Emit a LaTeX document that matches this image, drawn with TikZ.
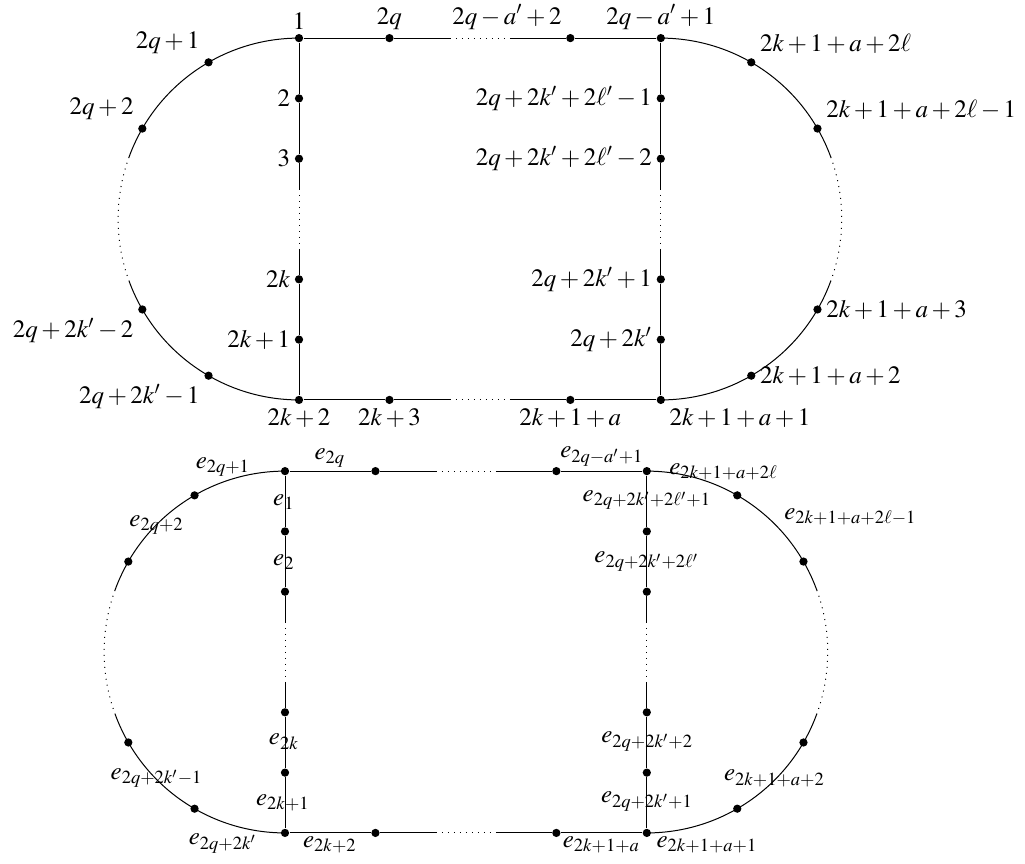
\documentclass[tikz,border=0pt]{standalone}
\usepackage{mathptmx}
\usetikzlibrary{calc}
\tikzset{
  vtx/.style={circle,fill=black,inner sep=0pt,minimum size=3.3pt},
  gap/.style={dotted},
  elab/.style={inner sep=0pt,anchor=center}
}
\newcommand{\skel}[1]{%
  % break points of the dotted parts
  \coordinate (#1-lu) at (0,0.5);   \coordinate (#1-ld) at (0,-0.5);
  \coordinate (#1-ru) at (6,0.5);   \coordinate (#1-rd) at (6,-0.5);
  \coordinate (#1-tu) at (2.5,3);   \coordinate (#1-td) at (3.5,3);
  \coordinate (#1-bu) at (2.5,-3);  \coordinate (#1-bd) at (3.5,-3);
  % vertices
  \node[vtx] (#1-l0) at (0,3) {};  \node[vtx] (#1-l1) at (0,2) {};
  \node[vtx] (#1-l2) at (0,1) {};  \node[vtx] (#1-l4) at (0,-1) {};
  \node[vtx] (#1-l5) at (0,-2) {}; \node[vtx] (#1-l6) at (0,-3) {};
  \node[vtx] (#1-r0) at (6,3) {};  \node[vtx] (#1-r1) at (6,2) {};
  \node[vtx] (#1-r2) at (6,1) {};  \node[vtx] (#1-r4) at (6,-1) {};
  \node[vtx] (#1-r5) at (6,-2) {}; \node[vtx] (#1-r6) at (6,-3) {};
  \node[vtx] (#1-t1) at (1.5,3) {};  \node[vtx] (#1-t2) at (4.5,3) {};
  \node[vtx] (#1-b1) at (1.5,-3) {}; \node[vtx] (#1-b2) at (4.5,-3) {};
  \node[vtx] (#1-a120) at (120:3) {}; \node[vtx] (#1-a150) at (150:3) {};
  \node[vtx] (#1-a210) at (210:3) {}; \node[vtx] (#1-a240) at (240:3) {};
  \node[vtx] (#1-c60) at ($(6,0)+(60:3)$) {};   \node[vtx] (#1-c30) at ($(6,0)+(30:3)$) {};
  \node[vtx] (#1-c330) at ($(6,0)+(-30:3)$) {}; \node[vtx] (#1-c300) at ($(6,0)+(-60:3)$) {};
  \coordinate (#1-al) at (160:3);  \coordinate (#1-am) at (200:3);
  \coordinate (#1-cl) at ($(6,0)+(20:3)$); \coordinate (#1-cm) at ($(6,0)+(-20:3)$);
  % straight edges
  \draw (#1-l0) -- (#1-l1) -- (#1-l2) -- (#1-lu);
  \draw[gap] (#1-lu) -- (#1-ld);
  \draw (#1-ld) -- (#1-l4) -- (#1-l5) -- (#1-l6);
  \draw (#1-r0) -- (#1-r1) -- (#1-r2) -- (#1-ru);
  \draw[gap] (#1-ru) -- (#1-rd);
  \draw (#1-rd) -- (#1-r4) -- (#1-r5) -- (#1-r6);
  \draw (#1-l0) -- (#1-t1) -- (#1-tu);
  \draw[gap] (#1-tu) -- (#1-td);
  \draw (#1-td) -- (#1-t2) -- (#1-r0);
  \draw (#1-l6) -- (#1-b1) -- (#1-bu);
  \draw[gap] (#1-bu) -- (#1-bd);
  \draw (#1-bd) -- (#1-b2) -- (#1-r6);
  % arcs
  \draw (#1-l0.center) arc[start angle=90,end angle=160,radius=3];
  \draw[gap] (#1-al) arc[start angle=160,end angle=200,radius=3];
  \draw (#1-am) arc[start angle=200,end angle=270,radius=3];
  \draw (#1-r0.center) arc[start angle=90,end angle=20,radius=3];
  \draw[gap] (#1-cl) arc[start angle=20,end angle=-20,radius=3];
  \draw (#1-cm) arc[start angle=-20,end angle=-90,radius=3];
}
\begin{document}
\begin{tikzpicture}[x=0.4pt,y=-0.4pt]
\useasboundingbox (0,0) rectangle (1025,863);
\begin{scope}[shift={(299,219)},x=24.12pt,y=24.12pt]\skel{T}\end{scope}
\begin{scope}[shift={(285,652)},x=24.12pt,y=24.12pt]\skel{B}\end{scope}
% top figure: vertex labels
\node[above] (n1) at (T-l0) {$1$};
\node[left] (n2) at (T-l1) {$2$};
\node[left] (n3) at (T-l2) {$3$};
\node[left] (n4) at (T-l4) {$2k$};
\node[left] (n5) at (T-l5) {$2k+1$};
\node[below] (n6) at (T-l6) {$2k+2$};
\node[above] (n7) at (T-t1) {$2q$};
\node[above left] (n8) at (T-t2) {$2q-a'+2$};
\node[above] (n9) at (T-r0) {$2q-a'+1$};
\node[below] (n10) at (T-b1) {$2k+3$};
\node[below] (n11) at (T-b2) {$2k+1+a$};
\node[below right] (n12) at (T-r6) {$2k+1+a+1$};
\node[left] (n13) at (T-r1) {$2q+2k'+2\ell'-1$};
\node[left] (n14) at (T-r2) {$2q+2k'+2\ell'-2$};
\node[left] (n15) at (T-r4) {$2q+2k'+1$};
\node[left] (n16) at (T-r5) {$2q+2k'$};
\node[above left] (n17) at (T-a120) {$2q+1$};
\node[above left] (n18) at (T-a150) {$2q+2$};
\node[below left] (n19) at (T-a210) {$2q+2k'-2$};
\node[below left] (n20) at (T-a240) {$2q+2k'-1$};
\node[above right] (n21) at (T-c60) {$2k+1+a+2\ell$};
\node[above right] (n22) at (T-c30) {$2k+1+a+2\ell-1$};
\node[right] (n23) at (T-c330) {$2k+1+a+3$};
\node[right] (n24) at (T-c300) {$2k+1+a+2$};
% bottom figure: edge labels
\node[elab] (e1) at (223,467) {$e_{2q+1}$};
\node[elab] (e2) at (330,458) {$e_{2q}$};
\node[elab] (e3) at (284,501.7) {$e_{1}$};
\node[elab] (e4) at (284,561.7) {$e_{2}$};
\node[elab] (e5) at (284,741.7) {$e_{2k}$};
\node[elab] (e6) at (283,802.7) {$e_{2k+1}$};
\node[elab] (e7) at (156.7,525) {$e_{2q+2}$};
\node[elab] (e8) at (156.7,778) {$e_{2q+2k'-1}$};
\node[elab] (e9) at (223,843) {$e_{2q+2k'}$};
\node[elab] (e10) at (330,845) {$e_{2k+2}$};
\node[elab] (e11) at (602,456.7) {$e_{2q-a'+1}$};
\node[elab] (e12) at (723.7,471.7) {$e_{2k+1+a+2\ell}$};
\node[elab] (e13) at (647,500) {$e_{2q+2k'+2\ell'+1}$};
\node[elab] (e14) at (850.5,516.7) {$e_{2k+1+a+2\ell-1}$};
\node[elab] (e15) at (647,561.7) {$e_{2q+2k'+2\ell'}$};
\node[elab] (e16) at (647.3,741.7) {$e_{2q+2k'+2}$};
\node[elab] (e17) at (647,801.7) {$e_{2q+2k'+1}$};
\node[elab] (e18) at (774.5,778.3) {$e_{2k+1+a+2}$};
\node[elab] (e19) at (601.5,845) {$e_{2k+1+a}$};
\node[elab] (e20) at (707,845) {$e_{2k+1+a+1}$};
\end{tikzpicture}
\end{document}
